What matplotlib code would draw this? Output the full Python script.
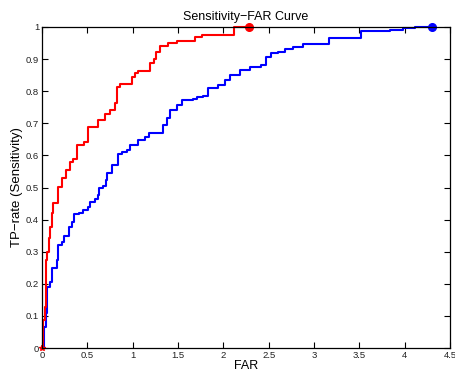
import matplotlib
matplotlib.use("Agg")
import matplotlib.pyplot as plt
import numpy as np

plt.rcParams['font.family'] = ['Liberation Sans', 'DejaVu Sans']

far_red = [0, 0.003, 0.015, 0.033, 0.044, 0.06, 0.077, 0.088, 0.107, 0.118, 0.18, 0.217,
           0.26, 0.31, 0.345, 0.39, 0.467, 0.51, 0.62, 0.7, 0.75, 0.8, 0.83, 0.86, 0.99,
           1.025, 1.06, 1.19, 1.23, 1.257, 1.3, 1.39, 1.485, 1.69, 1.76, 2.12, 2.28]
tpr_red = [0, 0.007, 0.087, 0.129, 0.274, 0.3, 0.342, 0.378, 0.42, 0.453, 0.503, 0.53,
           0.555, 0.58, 0.59, 0.632, 0.643, 0.69, 0.71, 0.73, 0.74, 0.762, 0.812, 0.822, 0.845,
           0.856, 0.864, 0.887, 0.9, 0.922, 0.94, 0.949, 0.957, 0.968, 0.975, 1.0, 1.0]

far_blue = [0, 0.022, 0.04, 0.06, 0.088, 0.107, 0.16, 0.173, 0.217, 0.246, 0.298, 0.334,
            0.356, 0.41, 0.455, 0.51, 0.53, 0.584, 0.62, 0.632, 0.676, 0.71, 0.72, 0.768,
            0.84, 0.878, 0.934, 0.97, 1.06, 1.135, 1.18, 1.337, 1.375, 1.41, 1.485, 1.54,
            1.67, 1.705, 1.78, 1.835, 1.94, 2.02, 2.07, 2.18, 2.29, 2.42, 2.47, 2.53, 2.6,
            2.68, 2.77, 2.88, 3.16, 3.52, 3.84, 3.98, 4.11, 4.30]
tpr_blue = [0, 0.066, 0.108, 0.19, 0.207, 0.248, 0.274, 0.32, 0.33, 0.349, 0.378, 0.393,
            0.416, 0.421, 0.43, 0.44, 0.456, 0.464, 0.477, 0.497, 0.506, 0.523, 0.544, 0.57,
            0.604, 0.612, 0.617, 0.632, 0.648, 0.658, 0.67, 0.695, 0.716, 0.741, 0.757, 0.773,
            0.775, 0.781, 0.786, 0.809, 0.819, 0.835, 0.85, 0.866, 0.876, 0.881, 0.908, 0.918, 0.923,
            0.93, 0.939, 0.946, 0.967, 0.989, 0.991, 0.996, 1.0, 1.0]

xticks = [0, 0.5, 1, 1.5, 2, 2.5, 3, 3.5, 4, 4.5]
xticklabels = ["0", "0.5", "1", "1.5", "2", "2.5", "3", "3.5", "4", "4.5"]
yticks = [0, 0.1, 0.2, 0.3, 0.4, 0.5, 0.6, 0.7, 0.8, 0.9, 1]
yticklabels = ["0", "0.1", "0.2", "0.3", "0.4", "0.5", "0.6", "0.7", "0.8", "0.9", "1"]

fig = plt.figure(figsize=(4.56, 3.72), dpi=100)
ax = fig.add_axes([42/456, 24/372, 408/456, 321/372])

ax.plot(far_blue, tpr_blue, color='blue', lw=1.5, drawstyle='steps-post', clip_on=False)
ax.plot(far_red, tpr_red, color='red', lw=1.5, drawstyle='steps-post', clip_on=False)
ax.plot([far_red[-1]], [tpr_red[-1]], 'o', color='red', ms=5.5, clip_on=False)
ax.plot([far_blue[-1]], [tpr_blue[-1]], 'o', color='blue', ms=5.5, clip_on=False)
ax.plot([far_red[0]], [tpr_red[0]], '*', color='red', ms=4, clip_on=False)

ax.set_xlim(0, 4.5)
ax.set_ylim(0, 1)
ax.set_xticks(xticks)
ax.set_xticklabels(xticklabels)
ax.set_yticks(yticks)
ax.set_yticklabels(yticklabels)
ax.tick_params(direction='in', length=4, width=0.8, top=True, right=True,
               labelsize=6.8, pad=2, labelcolor='#222222')
for s in ax.spines.values():
    s.set_linewidth(0.9)

ax.set_title("Sensitivity\u2212FAR Curve", fontsize=9, pad=5)
ax.set_xlabel("FAR", fontsize=9, labelpad=0)
ax.set_ylabel("TP\u2212rate (Sensitivity)", fontsize=9.5, labelpad=2)

fig.savefig("out.png", dpi=100)
